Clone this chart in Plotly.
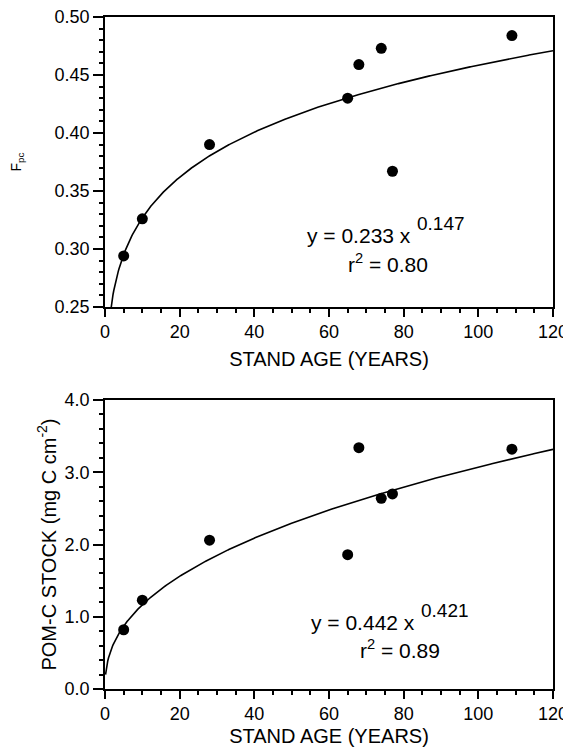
import numpy as np
import plotly.graph_objects as go

# ---- data ----
stand_age = [5, 10, 28, 65, 68, 74, 77, 109]
fpc = [0.294, 0.326, 0.390, 0.430, 0.459, 0.473, 0.367, 0.484]

pom_age = [5, 10, 28, 65, 68, 74, 77, 109]
pom_c = [0.82, 1.23, 2.06, 1.86, 3.34, 2.64, 2.70, 3.32]

# power-law fits printed on the chart: y = a * x^b
fpc_fit_a, fpc_fit_b, fpc_r2 = 0.233, 0.147, "0.80"
pom_fit_a, pom_fit_b, pom_r2 = 0.442, 0.421, "0.89"

x_ticks = [0, 20, 40, 60, 80, 100, 120]
fpc_ticks = [0.25, 0.30, 0.35, 0.40, 0.45, 0.50]
pom_ticks = [0.0, 1.0, 2.0, 3.0, 4.0]

FONT = "Liberation Sans, Arial, Helvetica, sans-serif"

fit_x = np.linspace(0.15, 120, 600)

fig = go.Figure()

# top panel
fig.add_trace(go.Scatter(x=fit_x, y=fpc_fit_a * fit_x ** fpc_fit_b, mode="lines",
                         line=dict(color="black", width=1.6), xaxis="x", yaxis="y",
                         showlegend=False, hoverinfo="skip"))
fig.add_trace(go.Scatter(x=stand_age, y=fpc, mode="markers",
                         marker=dict(color="black", size=11), xaxis="x", yaxis="y",
                         showlegend=False))
# bottom panel
fig.add_trace(go.Scatter(x=fit_x, y=pom_fit_a * fit_x ** pom_fit_b, mode="lines",
                         line=dict(color="black", width=1.6), xaxis="x2", yaxis="y2",
                         showlegend=False, hoverinfo="skip"))
fig.add_trace(go.Scatter(x=pom_age, y=pom_c, mode="markers",
                         marker=dict(color="black", size=11), xaxis="x2", yaxis="y2",
                         showlegend=False))

tickfont = dict(family=FONT, size=18, color="black")
titlefont = dict(family=FONT, size=20, color="black")

def xaxis_cfg(anchor, standoff):
    return dict(
        anchor=anchor, domain=[0, 1], range=[0, 120],
        tickvals=x_ticks, ticks="outside", ticklen=8, tickwidth=1.5, tickcolor="black",
        minor=dict(dtick=5, tick0=0, ticks="outside", ticklen=4, tickwidth=1.5, tickcolor="black"),
        showline=True, linecolor="black", linewidth=1.5, mirror=True,
        showgrid=False, zeroline=False, tickfont=tickfont, ticklabeloverflow="allow",
        title=dict(text="STAND AGE (YEARS)", font=titlefont, standoff=standoff),
    )

# the page body adds an 8px margin; the figure is sized so the page does not overflow
fig.update_layout(
    width=563, height=739,
    margin=dict(l=97, r=18, t=9, b=58, autoexpand=False),
    paper_bgcolor="white", plot_bgcolor="white",
    font=dict(family=FONT, color="black"),
    xaxis=xaxis_cfg("y", 11),
    xaxis2=xaxis_cfg("y2", 9),
    yaxis=dict(
        anchor="x", domain=[0.5685, 1.0], range=[0.25, 0.50],
        tickvals=fpc_ticks, ticktext=[f"{v:.2f}" for v in fpc_ticks],
        ticks="outside", ticklen=10, tickwidth=1.5, tickcolor="black",
        minor=dict(dtick=0.01, tick0=0.25, ticks="outside", ticklen=4, tickwidth=1.5, tickcolor="black"),
        showline=True, linecolor="black", linewidth=1.5, mirror=True,
        showgrid=False, zeroline=False, tickfont=tickfont, ticklabeloverflow="allow",
        title=dict(text="F<sub>pc</sub>", font=dict(family=FONT, size=14, color="black"), standoff=30),
    ),
    yaxis2=dict(
        anchor="x2", domain=[0.0, 0.430], range=[0, 4.0],
        tickvals=pom_ticks, ticktext=[f"{v:.1f}" for v in pom_ticks],
        ticks="outside", ticklen=10, tickwidth=1.5, tickcolor="black",
        minor=dict(dtick=0.2, tick0=0, ticks="outside", ticklen=4, tickwidth=1.5, tickcolor="black"),
        showline=True, linecolor="black", linewidth=1.5, mirror=True,
        showgrid=False, zeroline=False, tickfont=tickfont, ticklabeloverflow="allow",
        title=dict(text="POM-C STOCK (mg C cm<sup>-2</sup>)", font=titlefont, standoff=3),
    ),
)

annfont = dict(family=FONT, size=21, color="black")
expfont = dict(family=FONT, size=19, color="black")

def equation(xref, yref, x_split, y_main, a, b, x_r2, y_r2, r2):
    fig.add_annotation(x=x_split, y=y_main, xref=xref, yref=yref, showarrow=False,
                       xanchor="right", font=annfont, text=f"y = {a} x")
    fig.add_annotation(x=x_split, y=y_main, xref=xref, yref=yref, showarrow=False,
                       xanchor="left", xshift=2, yshift=12, font=expfont, text=f"{b}")
    fig.add_annotation(x=x_r2, y=y_r2, xref=xref, yref=yref, showarrow=False,
                       font=annfont, text=f"r<sup>2</sup> = {r2}")

equation("x", "y", 82.5, 0.312, fpc_fit_a, fpc_fit_b, 75.8, 0.288, fpc_r2)
equation("x2", "y2", 83.7, 0.927, pom_fit_a, pom_fit_b, 79.0, 0.554, pom_r2)

fig.write_html("out.html")
